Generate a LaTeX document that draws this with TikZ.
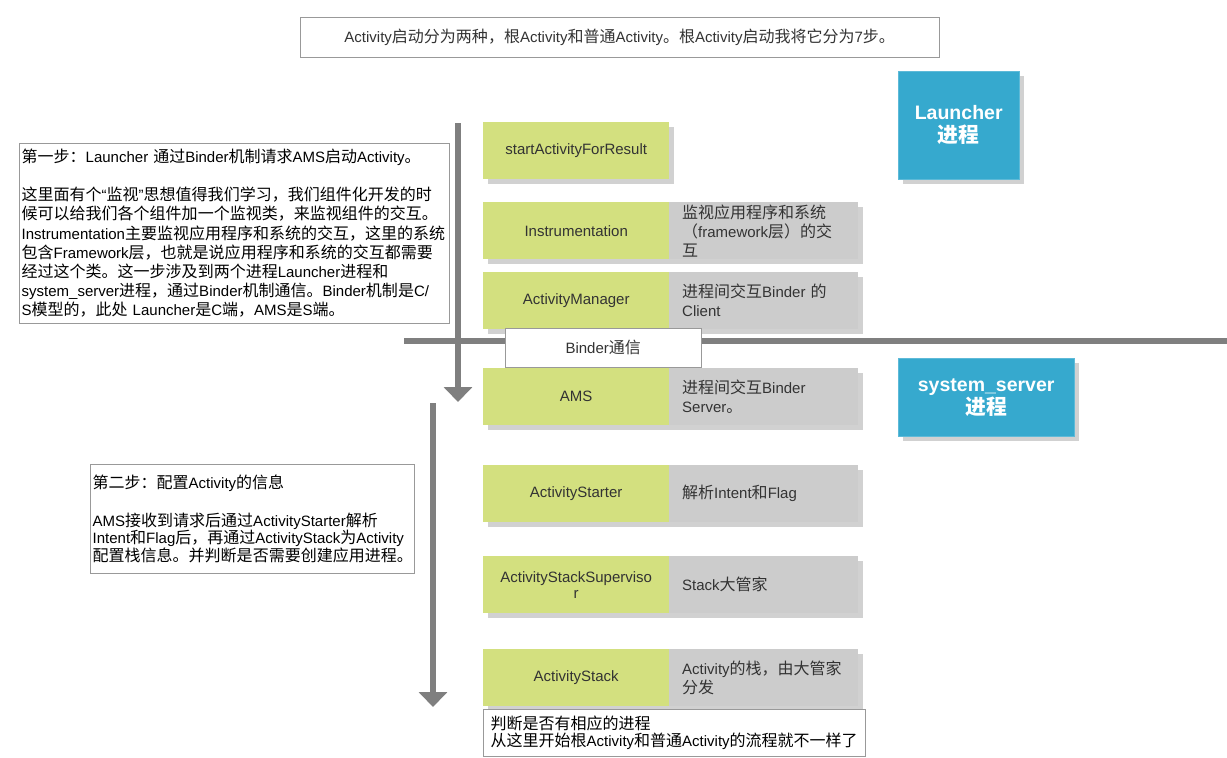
\documentclass[tikz,border=0pt]{standalone}
\usepackage{fontspec}
\usepackage{xcolor}
\usepackage{tikz}
\usetikzlibrary{arrows.meta,shadows}
\setmainfont{Liberation Sans}
\newfontfamily\cjkfont[Scale=1.067]{Noto Sans CJK SC}
% switch to the CJK face for Chinese characters
\XeTeXinterchartokenstate=1
\newXeTeXintercharclass\cjkcls
\newcount\cjkc
\def\cjkrange#1#2{\cjkc=#1\relax\loop\XeTeXcharclass\cjkc=\cjkcls\ifnum\cjkc<#2\advance\cjkc by 1\repeat}
\cjkrange{"3000}{"303F}
\cjkrange{"4E00}{"9FFF}
\cjkrange{"FF00}{"FFEF}
\XeTeXinterchartoks 0 \cjkcls={\begingroup\cjkfont}
\XeTeXinterchartoks 4095 \cjkcls={\begingroup\cjkfont}
\XeTeXinterchartoks \cjkcls 0={\endgroup}
\XeTeXinterchartoks \cjkcls 4095={\endgroup}
\definecolor{leaf}{HTML}{D3E07F}
\definecolor{ash}{HTML}{CCCCCC}
\definecolor{sky}{HTML}{36A9CE}
\definecolor{rail}{HTML}{7F7F7F}
\definecolor{ink}{HTML}{333333}
\definecolor{frame}{HTML}{999999}

\begin{document}
\begin{tikzpicture}[x=1pt, y=-1pt,
  boxshadow/.style={drop shadow={shadow xshift=5pt, shadow yshift=-5pt, fill=black, opacity=0.18}},
  greenbox/.style={boxshadow, fill=leaf, text=ink, anchor=north west, minimum width=186pt, minimum height=57pt, inner sep=2pt, align=center, font=\fontsize{15}{16}\selectfont},
  graybox/.style={boxshadow, fill=ash, text=ink, anchor=north west, text width=163pt, inner xsep=13pt, inner ysep=2pt, minimum height=57pt, align=left, font=\fontsize{15}{19}\selectfont},
  bluebox/.style={boxshadow, fill=sky, draw=sky!80!white, text=white, anchor=north west, align=center, font=\fontsize{19.5}{23}\selectfont\bfseries},
  notebox/.style={draw=frame, fill=white, text=black, anchor=north west, align=left, inner xsep=2.5pt},
  flow/.style={rail, line width=6pt, -{Triangle[width=28pt, length=15pt]}}]
  \useasboundingbox (0,0) rectangle (1227,758);

  % process divider and flow arrows
  \coordinate (railL) at (404,341);
  \coordinate (railR) at (1227,341);
  \draw[rail, line width=6pt] (railL) -- (railR);
  \coordinate (flowAtop) at (458,123);
  \coordinate (flowAend) at (458,402);
  \coordinate (flowBtop) at (433,403);
  \coordinate (flowBend) at (433,707);
  \draw[flow] (flowAtop) -- (flowAend);
  \draw[flow] (flowBtop) -- (flowBend);

  \node[notebox, minimum width=639pt, minimum height=40pt, align=center, inner sep=0pt, font=\fontsize{15}{17}\selectfont, text=ink] (banner) at (300,17) {Activity启动分为两种，根Activity和普通Activity。根Activity启动我将它分为7步。};

  \node[bluebox, minimum width=121pt, minimum height=108pt] (launcher) at (898,71) {Launcher\\进程};
  \node[bluebox, minimum width=176pt, minimum height=78pt] (sysserver) at (898,358) {system\_server\\进程};

  % Launcher side
  \node[greenbox] (start) at (483,122) {startActivityForResult};
  \node[greenbox] (instr) at (483,202) {Instrumentation};
  \node[graybox] (instrnote) at (669,202) {监视应用程序和系统\\（framework层）的交\\互};
  \node[greenbox] (manager) at (483,272) {ActivityManager};
  \node[graybox] (managernote) at (669,272) {进程间交互Binder 的\\Client};

  \node[draw=frame, fill=white, text=ink, anchor=north west, minimum width=196pt, minimum height=39pt, font=\fontsize{15}{17}\selectfont] (binder) at (505,328) {Binder通信};

  % system_server side
  \node[greenbox] (ams) at (483,368) {AMS};
  \node[graybox] (amsnote) at (669,368) {进程间交互Binder\\Server。};
  \node[greenbox] (starter) at (483,465) {ActivityStarter};
  \node[graybox] (starternote) at (669,465) {解析Intent和Flag};
  \node[greenbox] (supervisor) at (483,556) {ActivityStackSuperviso\\r};
  \node[graybox] (supervisornote) at (669,556) {Stack大管家};
  \node[greenbox] (stack) at (483,649) {ActivityStack};
  \node[graybox] (stacknote) at (669,649) {Activity的栈，由大管家\\分发};

  \node[notebox, minimum width=382pt, minimum height=47pt, inner ysep=3pt, font=\fontsize{15}{17}\selectfont] (stacktip) at (483,709) {判断是否有相应的进程\\从这里开始根Activity和普通Activity的流程就不一样了};

  \node[notebox, text width=425pt, minimum height=180pt, inner ysep=4pt, font=\fontsize{15}{19.2}\selectfont, anchor=north west] (stepone) at (19,143) {第一步：Launcher 通过Binder机制请求AMS启动Activity。\\[19.2pt]
    这里面有个“监视”思想值得我们学习，我们组件化开发的时\\
    候可以给我们各个组件加一个监视类，来监视组件的交互。\\
    Instrumentation主要监视应用程序和系统的交互，这里的系统\\
    包含Framework层，也就是说应用程序和系统的交互都需要\\
    经过这个类。这一步涉及到两个进程Launcher进程和\\
    system\_server进程，通过Binder机制通信。Binder机制是C/\\
    S模型的，此处 Launcher是C端，AMS是S端。};

  \node[notebox, text width=319pt, minimum height=109pt, inner ysep=4pt, font=\fontsize{15}{17.6}\selectfont] (steptwo) at (90,464) {第二步：配置Activity的信息\\[20pt]
    AMS接收到请求后通过ActivityStarter解析\\
    Intent和Flag后，再通过ActivityStack为Activity\\
    配置栈信息。并判断是否需要创建应用进程。};
\end{tikzpicture}
\end{document}
